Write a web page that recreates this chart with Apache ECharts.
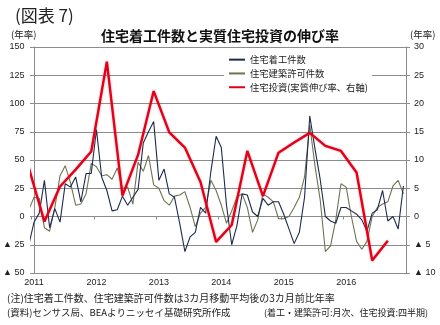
<!DOCTYPE html>
<html>
<head>
<meta charset="utf-8">
<script src="https://cdn.jsdelivr.net/npm/echarts@6/dist/echarts.min.js"></script>
<style>
  html, body { margin: 0; padding: 0; background: #ffffff; }
  #chart { width: 440px; height: 325px; }
</style>
</head>
<body>
<div id="chart"></div>
<script>
// Year labels for the monthly category axis (Jan 2011 - Dec 2016)
var years = ['2011', '2012', '2013', '2014', '2015', '2016'];

// Housing starts, 3-month moving average, 3-month annualised rate (%), Dec 2010 - Dec 2016
var housingStarts = [
  -25,
  -5, 3, 32, -10, 7, -5, 29, 26, 35, 13, 38, 38,
  77, 35, 23, 5, 6, 18, 10, 17, 24, 65, 75, 84,
  32, 42, 20, 17, -6, -31, -18, -14, 8, 3, 40, 71,
  61, 10, -25, -8, 20, 19, 4, 0, 16, 10, 13, 13,
  2, -11, -24, -14, 17, 89, 60, 33, 0, -4, -6, 8,
  8, 5, 2, -3, -13, 3, 6, 23, -4, 0, -11, 27
];

// Building permits, same basis, Dec 2010 - Dec 2016
var buildingPermits = [
  6,
  17, 16, -10, -13, 8, 36, 45, 30, 10, 11, 20, 47,
  44, 36, 37, 33, 43, 25, 26, 11, 48, 40, 54, 28,
  25, 14, 10, 18, 19, 22, 8, -9, 3, 8, 32, 23,
  10, -6, 5, 17, 20, 8, -14, -3, 20, 17, 13, -2,
  -2, 0, 8, 17, 35, 81, 45, 15, -31, -26, -3, 29,
  26, 0, -22, -29, -22, 0, 8, 11, 13, 27, 32, 20
];

// Real residential investment, quarterly growth (% annualised), Q4 2010 - Q3 2016
var residentialInvestment = [
  8.6,
  -0.9, 5.3, 8.3, 11.5,
  27.4, 3.7, 10.9, 22.2,
  14.9, 12.2, 6.1, -4.5,
  -1.5, 11.6, 3.6, 11.3,
  13.1, 14.8, 12.5, 11.6,
  7.8, -7.8, -4.3
];

var seriesNames = ['住宅着工件数', '住宅建築許可件数', '住宅投資(実質伸び率、右軸)'];

var FONT = '"Noto Sans CJK JP", "Noto Sans", sans-serif';
var NUM_FONT = '"Liberation Sans", "DejaVu Sans", "Noto Sans CJK JP", sans-serif';

// Monthly categories: label text only on January
var months = [];
years.forEach(function (y) {
  for (var m = 1; m <= 12; m++) months.push(y + '/' + m);
});

// Monthly series start one month before the first category (index -1)
function monthly(arr) {
  return arr.map(function (v, k) { return [k - 1, v]; });
}
// Quarterly values sit on the last month of each quarter; first entry is Q4 of the prior year
function quarterly(arr) {
  return arr.map(function (v, k) { return [3 * k - 1, v]; });
}

function tri(v) {
  return v < 0 ? '▲ ' + Math.abs(v) : String(v);
}

var chart = echarts.init(document.getElementById('chart'), null, { renderer: 'canvas' });

function note(text, pos, size) {
  var t = { text: text, top: pos.top, textStyle: { fontFamily: FONT, fontSize: size, fontWeight: 'normal', color: '#222' } };
  if (pos.left != null) t.left = pos.left;
  if (pos.right != null) t.right = pos.right;
  return t;
}

chart.setOption({
  animation: false,
  backgroundColor: '#ffffff',
  textStyle: { fontFamily: FONT },
  title: [
    note('(図表 7)', { left: 10, top: 2 }, 17),
    { text: '住宅着工件数と実質住宅投資の伸び率', left: 'center', top: 24, textStyle: { fontFamily: FONT, fontSize: 14, fontWeight: 'bold', color: '#111' } },
    note('(年率)', { left: 6, top: 25 }, 9.5),
    note('(年率)', { left: 405, top: 25 }, 9.5),
    note('(注)住宅着工件数、住宅建築許可件数は3カ月移動平均後の3カ月前比年率', { left: 2, top: 288 }, 10),
    note('(資料)センサス局、BEAよりニッセイ基礎研究所作成', { left: 2, top: 303 }, 9.5),
    note('(着工・建築許可:月次、住宅投資:四半期)', { right: 7, top: 303.5 }, 9)
  ],
  legend: {
    orient: 'vertical',
    left: 224,
    top: 53,
    itemGap: 4.5,
    itemWidth: 16,
    itemHeight: 10,
    padding: [2, 4, 2, 4],
    backgroundColor: '#ffffff',
    itemStyle: { opacity: 0 },
    textStyle: { fontFamily: FONT, fontSize: 9.3, color: '#222' },
    data: seriesNames
  },
  grid: { left: 31, right: 34, top: 47, height: 226, containLabel: false },
  xAxis: [
    {
      // zero line with yearly tick marks
      type: 'category',
      data: months,
      position: 'top',
      boundaryGap: true,
      axisLine: { show: true, onZero: true, lineStyle: { color: '#8c8c8c', width: 1 } },
      axisTick: { show: true, inside: true, length: 3, interval: 11, lineStyle: { color: '#8c8c8c' } },
      axisLabel: { show: false },
      splitLine: { show: false }
    },
    {
      // year labels along the bottom
      type: 'category',
      data: months,
      position: 'bottom',
      boundaryGap: true,
      axisLine: { show: true, onZero: false, lineStyle: { color: '#8c8c8c', width: 1 } },
      axisTick: { show: false },
      axisLabel: {
        show: true,
        interval: 0,
        margin: 5,
        fontFamily: NUM_FONT, fontSize: 9, color: '#222',
        formatter: function (val) {
          var p = val.split('/');
          return p[1] === '1' ? p[0] : '';
        }
      },
      splitLine: { show: false }
    },
    {
      // numeric month index used to place the series
      type: 'value',
      min: -0.5,
      max: 71.5,
      show: false
    }
  ],
  yAxis: [
    {
      type: 'value',
      min: -50, max: 150, interval: 25,
      position: 'left',
      axisLine: { show: true, lineStyle: { color: '#8c8c8c' } },
      axisTick: { show: true, length: 4, lineStyle: { color: '#8c8c8c' } },
      axisLabel: { margin: 7, fontFamily: NUM_FONT, fontSize: 9, color: '#222', formatter: tri },
      splitLine: { show: true, lineStyle: { color: '#8c8c8c', width: 1 } }
    },
    {
      type: 'value',
      min: -10, max: 30, interval: 5,
      position: 'right',
      axisLine: { show: true, lineStyle: { color: '#8c8c8c' } },
      axisTick: { show: true, length: 4, lineStyle: { color: '#8c8c8c' } },
      axisLabel: { margin: 8, fontFamily: NUM_FONT, fontSize: 9, color: '#222', formatter: tri },
      splitLine: { show: false }
    }
  ],
  series: [
    {
      name: seriesNames[0],
      type: 'line',
      xAxisIndex: 2, yAxisIndex: 0,
      data: monthly(housingStarts),
      symbol: 'none',
      clip: true,
      z: 3,
      lineStyle: { color: '#1c2a4d', width: 1.1 },
      itemStyle: { color: '#1c2a4d' }
    },
    {
      name: seriesNames[1],
      type: 'line',
      xAxisIndex: 2, yAxisIndex: 0,
      data: monthly(buildingPermits),
      symbol: 'none',
      clip: true,
      z: 2,
      lineStyle: { color: '#6f7252', width: 1.1 },
      itemStyle: { color: '#6f7252' }
    },
    {
      name: seriesNames[2],
      type: 'line',
      xAxisIndex: 2, yAxisIndex: 1,
      data: quarterly(residentialInvestment),
      symbol: 'none',
      clip: true,
      z: 4,
      lineStyle: { color: '#e2001a', width: 2.4, shadowColor: 'rgba(255,60,60,0.45)', shadowBlur: 2 },
      itemStyle: { color: '#e2001a' }
    }
  ]
});
</script>
</body>
</html>
